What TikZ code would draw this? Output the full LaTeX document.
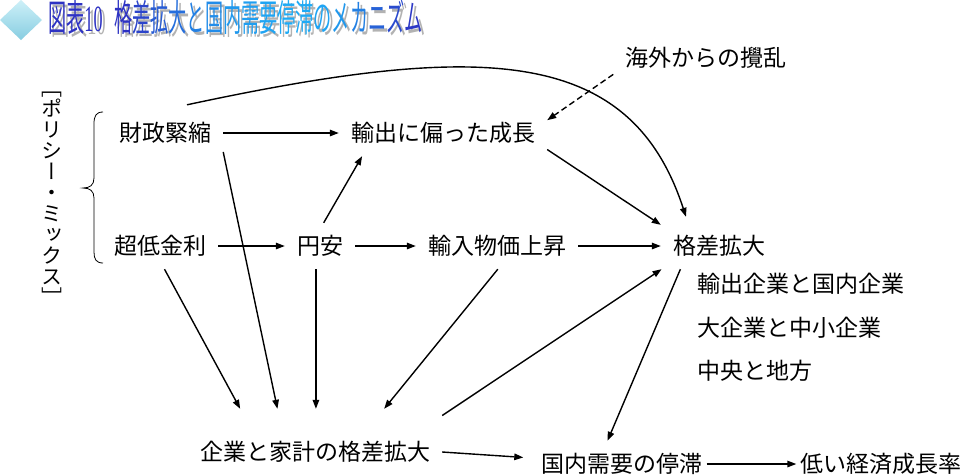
\documentclass[tikz,border=0pt]{standalone}
\usepackage{fontspec}
\setmainfont{Noto Sans CJK JP}
\newfontfamily\vfont[RawFeature=+vert]{Noto Sans CJK JP}
\newfontfamily\digitfont{Liberation Serif}
\usetikzlibrary{arrows.meta}
\definecolor{tblue}{RGB}{45,50,195}
\definecolor{tcyan}{RGB}{30,170,245}
\definecolor{tshadow}{RGB}{178,178,178}
\definecolor{dialight}{RGB}{205,240,248}
\definecolor{diadark}{RGB}{135,205,225}
\newcommand\tch[2]{\textcolor{tcyan!#1!tblue}{#2}}
\newcommand\ttlplain{図表{\digitfont 10}\hspace{24pt}格差拡大と国内需要停滞のメカニズム}
\newcommand\ttlcolor{\textcolor{tblue}{図表{\digitfont 10}}\hspace{24pt}\tch{0}{格}\tch{15}{差}\tch{35}{拡}\tch{50}{大}\tch{65}{と}\tch{75}{国}\tch{85}{内}\tch{90}{需}\tch{95}{要}\tch{100}{停}\tch{100}{滞}\tch{95}{の}\tch{85}{メ}\tch{65}{カ}\tch{40}{ニ}\tch{20}{ズ}\tch{5}{ム}}
\begin{document}
\begin{tikzpicture}[x=1pt,y=-1pt,
  lbl/.style={font=\fontsize{23}{23}\selectfont, text height=19pt, text depth=3pt, inner xsep=12pt, inner ysep=12pt},
  sub/.style={font=\fontsize{23}{23}\selectfont, text height=19pt, text depth=3pt, anchor=west, inner sep=0pt},
  arr/.style={line width=1.4pt, -{Triangle[length=9pt,width=6.5pt]}},
  dasharr/.style={arr, dash pattern=on 6pt off 3.5pt},
  ttl/.style={anchor=base west, inner sep=0pt, font=\fontsize{37}{37}\selectfont},
]
\useasboundingbox (0,0) rectangle (966,475);
\fill[white] (0,0) rectangle (966,475);

% title
\shade[top color=dialight, bottom color=diadark] (21,0) -- (42,20) -- (21,40) -- (0,20) -- cycle;
\node[ttl] (title) at (48,31) {\rlap{\hspace{3pt}\raisebox{-3pt}{\textcolor{tshadow}{\scalebox{0.49}[1]{\ttlplain}}}}\scalebox{0.49}[1]{\ttlcolor}};

% vertical label and brace
\node[font=\vfont\fontsize{21}{21}\selectfont, align=center, inner sep=0pt] (policy) at (52,199) {［\\ポ\\リ\\シ\\ー\\・\\ミ\\ッ\\ク\\ス\\］};
\draw[line width=0.8pt] (103,112) .. controls (96,112) and (94,116) .. (94,124) -- (94,178)
  .. controls (94,185) and (90,188) .. (83,188) .. controls (90,188) and (94,191) .. (94,198)
  -- (94,252) .. controls (94,259) and (96,263) .. (103,263);

% nodes
\node[lbl] (zaisei) at (165,133) {財政緊縮};
\node[lbl] (yushutsu) at (443,133) {輸出に偏った成長};
\node[lbl] (gaikai) at (706,58) {海外からの攪乱};
\node[lbl] (choutei) at (160,246) {超低金利};
\node[lbl] (enyasu) at (320,246) {円安};
\node[lbl] (yunyu) at (497,246) {輸入物価上昇};
\node[lbl] (kakusa) at (719,246) {格差拡大};
\node[sub] (sub1) at (697,284) {輸出企業と国内企業};
\node[sub] (sub2) at (697,328) {大企業と中小企業};
\node[sub] (sub3) at (697,371) {中央と地方};
\node[lbl, inner ysep=32pt] (kigyo) at (315,452) {企業と家計の格差拡大};
\node[lbl, inner xsep=18pt] (kokunai) at (622,464) {国内需要の停滞};
\node[lbl, inner xsep=4pt] (hikui) at (881,464) {低い経済成長率};

% connectors
\draw[arr] (zaisei) -- (yushutsu);
\draw[arr] ([xshift=22pt,yshift=5pt]zaisei.north) .. controls (480,42) and (630,45) .. ([xshift=-33pt,yshift=6pt]kakusa.north);
\draw[dasharr] (gaikai.190) -- (yushutsu.7);
\draw[arr] (yushutsu.-9) -- (kakusa.160);
\draw[arr] (enyasu.81) -- (yushutsu.196);
\draw[arr] (choutei) -- (enyasu);
\draw[arr] (enyasu) -- (yunyu);
\draw[arr] (yunyu) -- (kakusa);
\draw[arr] (zaisei.-18) -- (kigyo.131);
\draw[arr] (choutei.-79) -- (kigyo.150);
\draw[arr] (enyasu.-100) -- (enyasu.-100 |- kigyo.north);
\draw[arr] (yunyu.-88) -- (kigyo.32);
\draw[arr] (kigyo.16) -- (kakusa.202);
\draw[arr] (kakusa.211) -- (kokunai.122);
\draw[arr] (kigyo.east) -- (kokunai);
\draw[arr] ([xshift=-14pt]kokunai.east) -- (hikui);
\end{tikzpicture}
\end{document}
